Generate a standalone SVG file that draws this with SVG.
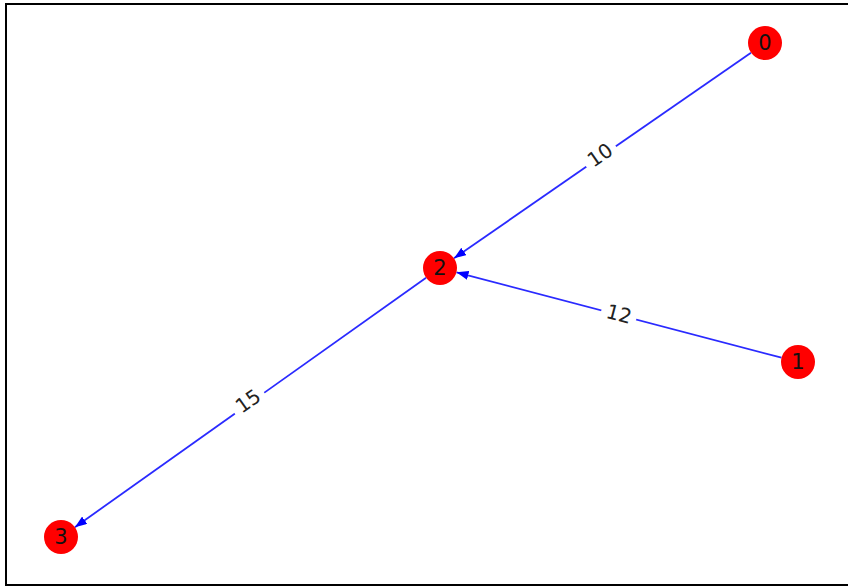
<svg xmlns="http://www.w3.org/2000/svg" width="848" height="587" viewBox="0 0 848 587">
<style>
.edge{stroke:#2a2aff;stroke-width:1.8;fill:none}
.node circle{fill:#ff0000}
.node text{font-family:"DejaVu Sans",sans-serif;font-size:21px;fill:#111;text-anchor:middle;dominant-baseline:central}
.lbl rect{fill:#fff}
.lbl text{font-family:"DejaVu Sans",sans-serif;font-size:20px;fill:#222;text-anchor:middle;dominant-baseline:central}
</style>
<defs>
<marker id="arr" viewBox="0 0 12 9" refX="12" refY="4.5" markerWidth="12" markerHeight="9" markerUnits="userSpaceOnUse" orient="auto">
<path d="M0,0 L12,4.5 L0,9 Z" fill="#0000ff"/>
</marker>
</defs>
<rect x="0" y="0" width="848" height="587" fill="#fff"/>
<rect x="6" y="4" width="850" height="581" fill="none" stroke="#000" stroke-width="2"/>
<g id="edges">
<line class="edge" x1="751" y1="52.7" x2="454" y2="258.3" marker-end="url(#arr)"/>
<line class="edge" x1="781.5" y1="357.7" x2="456.5" y2="272.3" marker-end="url(#arr)"/>
<line class="edge" x1="426.1" y1="277.8" x2="74.9" y2="527.2" marker-end="url(#arr)"/>
<g class="lbl" transform="translate(600,155) rotate(-34.7)"><rect x="-18" y="-11" width="36" height="22"/><text>10</text></g>
<g class="lbl" transform="translate(619,314) rotate(14.7)"><rect x="-18" y="-11" width="36" height="22"/><text>12</text></g>
<g class="lbl" transform="translate(248,401) rotate(-35.4)"><rect x="-18" y="-11" width="36" height="22"/><text>15</text></g>
</g>
<g id="node0" class="node"><circle cx="765" cy="43" r="17"/><text x="765" y="43">0</text></g>
<g id="node1" class="node"><circle cx="798" cy="362" r="17"/><text x="798" y="362">1</text></g>
<g id="node2" class="node"><circle cx="440" cy="268" r="17"/><text x="440" y="268">2</text></g>
<g id="node3" class="node"><circle cx="61" cy="537" r="17"/><text x="61" y="537">3</text></g>
</svg>
